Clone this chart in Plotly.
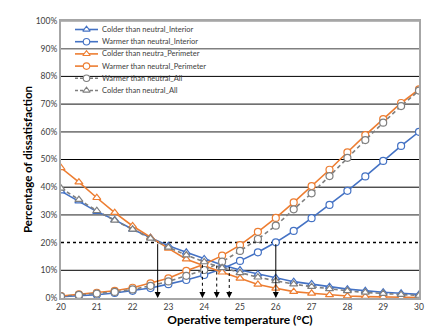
import plotly.graph_objects as go

temps = [20 + 0.5 * i for i in range(21)]

colder_interior = [38.6, 35.0, 31.2, 28.2, 24.8, 21.8, 18.9, 16.5, 14.1, 11.9, 10.1,
                   8.6, 7.3, 5.9, 5.1, 4.1, 3.2, 2.6, 2.1, 1.7, 1.3]
warmer_interior = [0.5, 0.8, 1.2, 1.8, 2.6, 3.6, 5.0, 6.5, 8.3, 10.6, 13.4,
                   16.5, 20.1, 24.2, 28.8, 33.6, 38.7, 43.9, 49.5, 54.9, 60.0]
colder_perimeter = [47.0, 41.8, 36.2, 30.8, 26.0, 21.8, 17.9, 14.0, 11.6, 9.3, 7.1,
                    4.9, 3.5, 2.3, 1.7, 1.1, 0.7, 0.5, 0.4, 0.3, 0.2]
warmer_perimeter = [0.7, 1.3, 1.9, 2.6, 3.7, 5.3, 7.1, 9.8, 12.2, 15.3, 19.1,
                    23.9, 28.9, 34.5, 40.4, 46.3, 52.6, 58.8, 64.6, 70.4, 75.3]
warmer_all = [0.6, 1.1, 1.6, 2.2, 3.1, 4.4, 6.0, 8.0, 10.1, 13.1, 17.0,
              21.3, 26.1, 32.0, 37.8, 44.0, 50.6, 57.0, 63.3, 69.3, 74.9]
colder_all = [39.6, 35.5, 31.5, 28.0, 24.8, 21.5, 18.3, 15.5, 13.0, 10.9, 9.1,
              7.5, 6.2, 5.0, 4.1, 3.3, 2.6, 2.0, 1.6, 1.2, 0.9]

threshold = 20
solid_arrow_x = [22.7, 26.0]
dotted_arrow_x = [23.95, 24.35, 24.7]
dotted_arrow_top = [12.0, 11.7, 11.2]

y_ticks = list(range(0, 101, 10))
y_tick_labels = [f"{v}%" for v in y_ticks]
x_ticks = list(range(20, 31))

BLUE = "#4472C4"
ORANGE = "#ED7D31"
GRAY = "#7F7F7F"

series = [
    ("Colder than neutral_Interior", colder_interior, BLUE, "triangle-up", "solid"),
    ("Warmer than neutral_Interior", warmer_interior, BLUE, "circle", "solid"),
    ("Colder than neutra_Perimeter", colder_perimeter, ORANGE, "triangle-up", "solid"),
    ("Warmer than neutral_Perimeter", warmer_perimeter, ORANGE, "circle", "solid"),
    ("Warmer than neutral_All", warmer_all, GRAY, "circle", "dash"),
    ("Colder than neutral_All", colder_all, GRAY, "triangle-up", "dash"),
]

fig = go.Figure()

W, H = 429, 327
ML, MR, MT, MB = 61, 10, 21, 29
plot_w = W - ML - MR
plot_h = H - MT - MB

for name, vals, col, sym, dash in series:
    fig.add_trace(go.Scatter(
        x=temps, y=vals, name=name, mode="lines+markers", showlegend=False,
        line=dict(color=col, width=1.6, dash="solid" if dash == "solid" else "4px,3px"),
        marker=dict(symbol=sym, size=7, color="white", line=dict(color=col, width=1.2)),
    ))

# compact legend drawn on an overlay axis measured in plot-area pixels
leg_x0, leg_x1, leg_text_x = 14, 37, 39
leg_y0, leg_dy = 8.5, 12.2
annotations = []
for i, (name, vals, col, sym, dash) in enumerate(series):
    yy = leg_y0 + i * leg_dy
    fig.add_trace(go.Scatter(
        x=[leg_x0, leg_x1], y=[yy, yy], mode="lines", xaxis="x2", yaxis="y2",
        showlegend=False, hoverinfo="skip",
        line=dict(color=col, width=1.6, dash="solid" if dash == "solid" else "3px,2px"),
    ))
    fig.add_trace(go.Scatter(
        x=[(leg_x0 + leg_x1) / 2], y=[yy], mode="markers", xaxis="x2", yaxis="y2",
        showlegend=False, hoverinfo="skip",
        marker=dict(symbol=sym, size=6.5, color="white", line=dict(color=col, width=1.1)),
    ))
    annotations.append(dict(x=leg_text_x, y=yy, xref="x2", yref="y2", text=name,
                            showarrow=False, xanchor="left", yanchor="middle",
                            font=dict(size=7.5, color="#404040")))

shapes = []
grid_styles = {10: ("#000000", 1), 30: ("#808080", 1.8), 40: ("#000000", 1),
               50: ("#000000", 1), 60: ("#808080", 1.8), 70: ("#404040", 1.2),
               80: ("#000000", 1), 90: ("#808080", 1.5), 100: ("#A0A0A0", 1.5)}
for yv, (c, w) in grid_styles.items():
    shapes.append(dict(type="line", xref="x", yref="y", x0=20, x1=30, y0=yv, y1=yv,
                       line=dict(color=c, width=w), layer="below"))
shapes.append(dict(type="line", xref="x", yref="y", x0=20, x1=30, y0=threshold, y1=threshold,
                   line=dict(color="#000000", width=1.5, dash="dot"), layer="below"))
for xv, top in zip(dotted_arrow_x, dotted_arrow_top):
    shapes.append(dict(type="line", xref="x", yref="y", x0=xv, x1=xv, y0=top, y1=2,
                       line=dict(color="#000000", width=1, dash="dot")))

for xv in solid_arrow_x:
    annotations.append(dict(x=xv, y=0, ax=xv, ay=threshold, xref="x", yref="y",
                            axref="x", ayref="y", text="", showarrow=True,
                            arrowhead=2, arrowsize=1.2, arrowwidth=1, arrowcolor="#000000"))
for xv in dotted_arrow_x:
    annotations.append(dict(x=xv, y=0, ax=xv, ay=2.5, xref="x", yref="y",
                            axref="x", ayref="y", text="", showarrow=True,
                            arrowhead=2, arrowsize=1.2, arrowwidth=1, arrowcolor="#000000"))

fig.update_layout(
    width=W, height=H,
    margin=dict(l=ML, r=MR, t=MT, b=MB, autoexpand=False),
    paper_bgcolor="white", plot_bgcolor="white",
    font=dict(family="Lato, sans-serif", size=8, color="#404040"),
    shapes=shapes, annotations=annotations,
    showlegend=False,
    xaxis=dict(range=[20, 30], tickvals=x_ticks, showgrid=False, zeroline=False, automargin=False,
               showline=True, linecolor="#A6A6A6", linewidth=2, mirror=True,
               ticks="", tickfont=dict(size=8.5, color="#404040"),
               title=dict(text="<b>Operative temperature (°C)</b>", font=dict(size=12, color="#000000"), standoff=0)),
    yaxis=dict(range=[0, 100], tickvals=y_ticks, ticktext=y_tick_labels, showgrid=False, zeroline=False,
               automargin=False,
               showline=True, linecolor="#A6A6A6", linewidth=2, mirror=True,
               ticks="", tickfont=dict(size=8.5, color="#404040"),
               title=dict(text="<b>Percentage of dissatisfaction</b>", font=dict(size=11.5, color="#000000"), standoff=1)),
    xaxis2=dict(overlaying="x", range=[0, plot_w], visible=False, fixedrange=True, automargin=False),
    yaxis2=dict(overlaying="y", range=[plot_h, 0], visible=False, fixedrange=True, automargin=False),
)

fig.write_html("out.html", config={"displayModeBar": False},
               post_script="document.body.style.margin='0';document.body.style.overflow='hidden';")
